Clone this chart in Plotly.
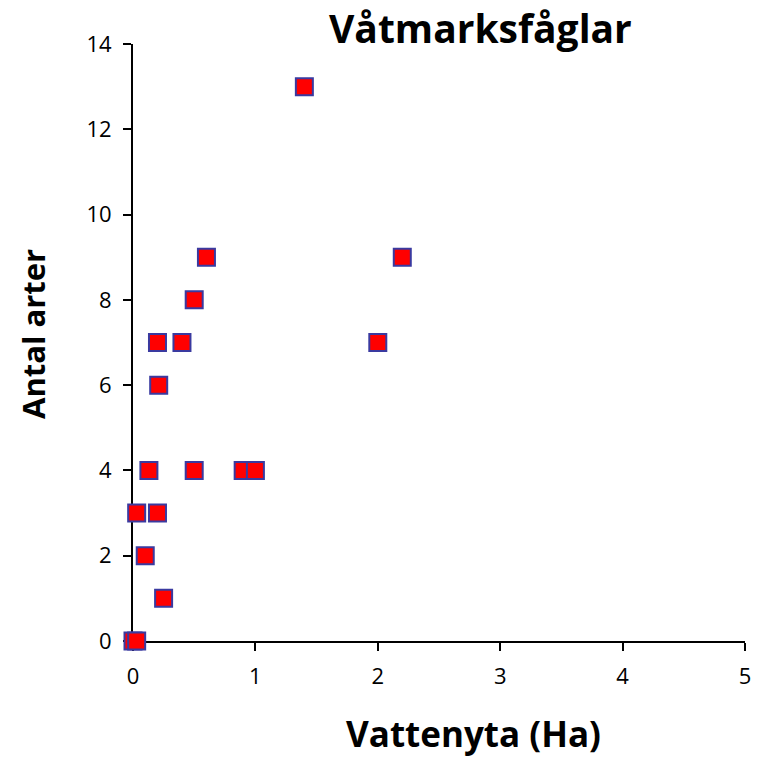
import plotly.graph_objects as go

x_ha = [1.4, 2.2, 2.0, 0.6, 0.5, 0.2, 0.4, 0.21, 0.13, 0.5, 0.9, 1.0, 0.03, 0.2, 0.1, 0.25, 0.0, 0.03]
y_arter = [13, 9, 7, 9, 8, 7, 7, 6, 4, 4, 4, 4, 3, 3, 2, 1, 0, 0]
x_ticks = [0, 1, 2, 3, 4, 5]
y_ticks = [0, 2, 4, 6, 8, 10, 12, 14]

FONT = "'Open Sans', sans-serif"

fig = go.Figure()
fig.add_trace(go.Scatter(
    x=x_ha, y=y_arter, mode="markers",
    marker=dict(symbol="square", size=17, color="#FF0000",
                line=dict(color="#3A3AA0", width=2)),
    cliponaxis=False, showlegend=False,
))

axis_common = dict(showgrid=False, zeroline=False,
                   showline=True, linecolor="black", linewidth=2,
                   ticks="outside", ticklen=8, tickwidth=2, tickcolor="black",
                   tickfont=dict(size=22), fixedrange=True, layer="below traces")

fig.update_layout(
    width=764, height=757,
    margin=dict(l=133, r=19, t=44, b=116),
    plot_bgcolor="white", paper_bgcolor="white",
    font=dict(family=FONT, color="black", size=22),
    xaxis=dict(range=[0, 5], tickvals=x_ticks, ticklabelstandoff=7, **axis_common),
    yaxis=dict(range=[0, 14], tickvals=y_ticks, ticklabelstandoff=7, **axis_common),
    annotations=[
        dict(text="<b>Våtmarksfåglar</b>", x=480, y=757 - 28,
             showarrow=False, font=dict(size=39)),
        dict(text="<b>Vattenyta (Ha)</b>", x=473, y=757 - 733, showarrow=False,
             font=dict(size=35)),
        dict(text="<b>Antal arter</b>", x=33, y=757 - 334, showarrow=False,
             textangle=-90, font=dict(size=31)),
    ],
)
# convert pixel positions to paper coordinates
pw, ph = 764 - 133 - 19, 757 - 44 - 116
for a in fig.layout.annotations:
    a.xref = "paper"; a.yref = "paper"
    a.x = (a.x - 133) / pw
    a.y = (a.y - 116) / ph
    a.xanchor = "center"; a.yanchor = "middle"

fig.write_html("out.html")
